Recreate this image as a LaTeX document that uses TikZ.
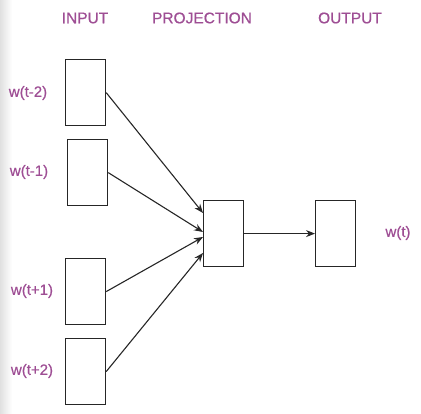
\documentclass[tikz,border=0pt]{standalone}
\usepackage{fontspec}
\setmainfont{Liberation Sans}
\newfontfamily\lblfont[FakeBold=0.6]{Liberation Sans}
\usetikzlibrary{arrows.meta}
\definecolor{lbl}{RGB}{158,78,148}
\begin{document}
\begin{tikzpicture}[x=1pt,y=-1pt,
  box/.style={draw=black!85,line width=1.2pt,minimum width=40pt,minimum height=66pt,inner sep=0pt,anchor=north west},
  lab/.style={text=lbl,font=\lblfont\fontsize{15}{17}\selectfont,inner sep=0pt},
  head/.style={text=lbl,font=\lblfont\fontsize{15.5}{17}\selectfont,inner sep=0pt},
  conn/.style={draw=black!85,line width=1.1pt,-{Stealth[length=9pt,width=7pt]}}]
\useasboundingbox (0,0) rectangle (421,414);
\fill[left color=black!12,right color=white] (0,0) rectangle (12,414);
\node[head] (hin) at (85,18) {INPUT};
\node[head] (hproj) at (202,18) {PROJECTION};
\node[head] (hout) at (350,18) {OUTPUT};
\node[box] (i1) at (65,59) {};
\node[box] (i2) at (67,139) {};
\node[box] (i3) at (65,258) {};
\node[box] (i4) at (65,338) {};
\node[box] (p) at (203,200) {};
\node[box] (o) at (315,200) {};
\node[lab] (l1) at (28,93) {w(t-2)};
\node[lab] (l2) at (29,172) {w(t-1)};
\node[lab] (l3) at (32,291) {w(t+1)};
\node[lab] (l4) at (32,371) {w(t+2)};
\node[lab] (lo) at (398,233) {w(t)};
\coordinate (t1) at (203,213);
\coordinate (t2) at (203,232);
\coordinate (t3) at (203,237);
\coordinate (t4) at (203,253);
\draw[conn] (i1.east) -- (t1);
\draw[conn] (i2.east) -- (t2);
\draw[conn] (i3.east) -- (t3);
\draw[conn] (i4.east) -- (t4);
\draw[conn] (p.east) -- (o.west);
\end{tikzpicture}
\end{document}
